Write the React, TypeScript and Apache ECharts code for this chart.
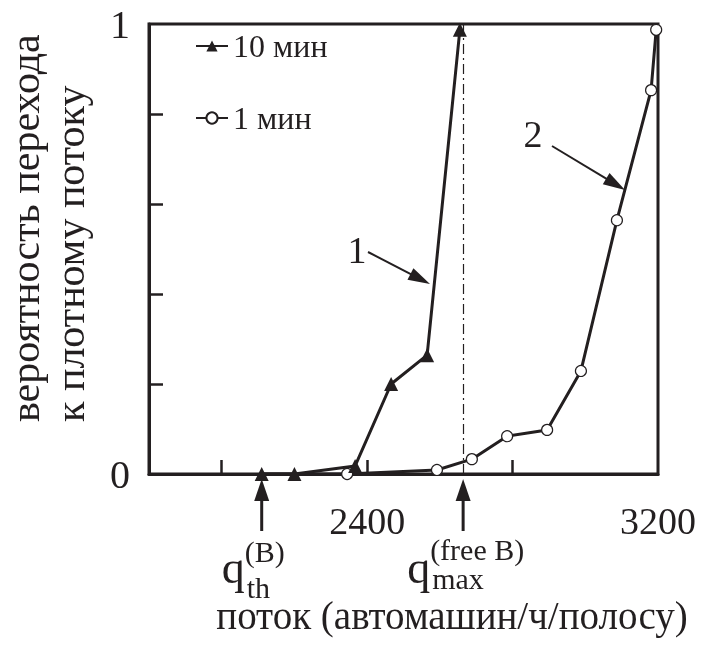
import React, { useEffect, useRef } from "react";
import * as echarts from "echarts";

// ---- data ----
const flow10 = [2110, 2200, 2367, 2466, 2565, 2655];
const prob10 = [0, 0, 0.018, 0.2, 0.264, 0.987];
const flow1 = [2110, 2200, 2345, 2592, 2688, 2785, 2895, 2988, 3087, 3181, 3195];
const prob1 = [0, 0, 0, 0.009, 0.033, 0.084, 0.098, 0.229, 0.564, 0.853, 0.987];
const hiddenMarkers1 = 2; // first points of the 1-min curve have no circle drawn
const qThreshold = 2110;
const qMaxFree = 2664;
const xTickValues = [2000, 2400, 2800];
const xLabelValues = [2400, 3200];
const yTickValues = [0.2, 0.4, 0.6, 0.8];
const yLabelValues = [0, 1];
const seriesNames = ["10 мин", "1 мин"];

const INK = "#231f20";
const FONT = "'Liberation Serif', 'Times New Roman', serif";

function arrow(x1: number, y1: number, x2: number, y2: number, len: number, w: number, lw: number) {
  const dx = x2 - x1, dy = y2 - y1;
  const d = Math.hypot(dx, dy);
  const ux = dx / d, uy = dy / d;
  const bx = x2 - ux * len, by = y2 - uy * len;
  const px = -uy, py = ux;
  return [
    { type: "line", silent: true, shape: { x1, y1, x2: bx + ux * 2, y2: by + uy * 2 }, style: { stroke: INK, lineWidth: lw } },
    {
      type: "polygon",
      silent: true,
      shape: { points: [[x2, y2], [bx + (px * w) / 2, by + (py * w) / 2], [bx - (px * w) / 2, by - (py * w) / 2]] },
      style: { fill: INK },
    },
  ];
}

export default function App() {
  const ref = useRef<HTMLDivElement>(null);
  useEffect(() => {
    if (!ref.current) return;
    const chart = echarts.init(ref.current, undefined, { renderer: "svg" });
    const data10 = flow10.map((x, i) => [x, prob10[i]]);
    const data1 = flow1.map((x, i) =>
      i < hiddenMarkers1 ? { value: [x, prob1[i]], symbol: "none" } : { value: [x, prob1[i]] }
    );
    chart.setOption({
      animation: false,
      grid: { left: 149, right: 44, top: 24, bottom: 174, show: true, borderColor: INK, borderWidth: 3 },
      legend: {
        orient: "vertical",
        left: 190,
        top: 25,
        itemGap: 40,
        itemWidth: 32,
        itemHeight: 14,
        data: seriesNames,
        textStyle: { fontFamily: FONT, fontSize: 32, color: INK },
        lineStyle: { width: 2 },
      },
      xAxis: {
        type: "value",
        min: 1800,
        max: 3200,
        axisLine: { show: true, lineStyle: { color: INK, width: 3 } },
        axisTick: { show: true, inside: true, length: 14, customValues: xTickValues, lineStyle: { color: INK, width: 2.5 } },
        axisLabel: {
          customValues: xLabelValues,
          formatter: (v: number) => String(v),
          fontFamily: FONT,
          fontSize: 38,
          color: INK,
          margin: 28,
        },
        splitLine: { show: false },
      },
      yAxis: {
        type: "value",
        min: 0,
        max: 1,
        axisLine: { show: true, lineStyle: { color: INK, width: 3 } },
        axisTick: { show: true, inside: true, length: 14, customValues: yTickValues, lineStyle: { color: INK, width: 2.5 } },
        axisLabel: { customValues: yLabelValues, fontFamily: FONT, fontSize: 40, color: INK, margin: 19 },
        splitLine: { show: false },
      },
      series: [
        {
          name: seriesNames[0],
          type: "line",
          data: data10,
          symbol: "triangle",
          symbolSize: 14,
          z: 4,
          itemStyle: { color: INK },
          lineStyle: { color: INK, width: 3 },
          markLine: {
            silent: true,
            symbol: "none",
            label: { show: false },
            lineStyle: { color: INK, width: 1.2, type: [10, 4, 2, 4] },
            data: [{ xAxis: qMaxFree }],
          },
        },
        {
          name: seriesNames[1],
          type: "line",
          data: data1,
          symbol: "circle",
          symbolSize: 11,
          z: 3,
          itemStyle: { color: "#fff", borderColor: INK, borderWidth: 1.2 },
          lineStyle: { color: INK, width: 3 },
        },
      ],
    });

    const p0 = chart.convertToPixel({ gridIndex: 0 }, [qThreshold, 0]) as number[];
    const p1 = chart.convertToPixel({ gridIndex: 0 }, [qMaxFree, 0]) as number[];
    const yAxisPx = p0[1];
    const tipY = yAxisPx + 5;
    const tailY = yAxisPx + 57;

    const txt = (text: string, x: number, y: number, size: number, align = "left", rot = 0) => ({
      type: "text",
      silent: true,
      x,
      y,
      rotation: rot,
      style: { text, fontFamily: FONT, fontSize: size, fill: INK, align, verticalAlign: "middle" },
    });

    chart.setOption({
      graphic: [
        ...arrow(p0[0], tailY, p0[0], tipY, 22, 15, 3),
        ...arrow(p1[0], tailY, p1[0], tipY, 22, 15, 3),
        txt("q", p0[0] - 40, 567, 46),
        txt("(B)", p0[0] - 17, 551, 30),
        txt("th", p0[0] - 15, 587, 30),
        txt("q", p1[0] - 56, 567, 46),
        txt("(free B)", p1[0] - 33, 549, 30),
        txt("max", p1[0] - 31, 578, 30),
        txt("поток (автомашин/ч/полосу)", 452, 615, 39, "center"),
        txt("вероятность перехода", 25, 422, 42, "left", Math.PI / 2),
        txt("к плотному потоку", 70, 422, 42, "left", Math.PI / 2),
        txt("1", 357, 250, 38, "center"),
        ...arrow(368, 252, 430, 284, 22, 13, 2),
        txt("2", 533, 134, 38, "center"),
        ...arrow(552, 146, 625, 190, 22, 13, 2),
      ],
    });

    return () => chart.dispose();
  }, []);
  return <div ref={ref} style={{ position: "fixed", left: 0, top: 0, width: 702, height: 648 }} />;
}
